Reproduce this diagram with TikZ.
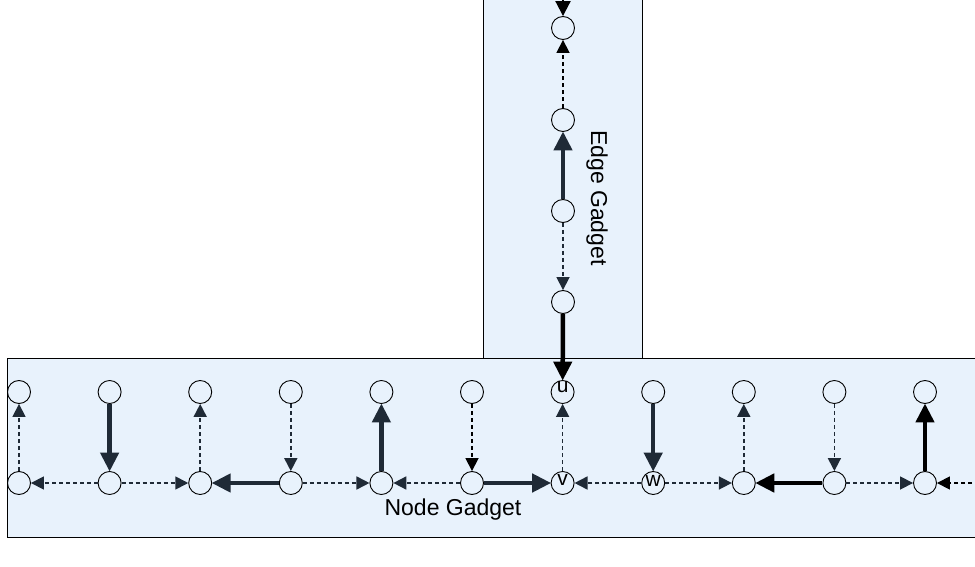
\documentclass[tikz,border=0pt]{standalone}
\usepackage{fontspec}
\setmainfont{Liberation Sans}
\usepackage{tikz}
\usetikzlibrary{arrows.meta}
\definecolor{gadgetfill}{HTML}{E8F2FC}
\definecolor{slate}{HTML}{1F2A36}

\tikzset{
  vtx/.style={circle, draw, minimum size=23pt, inner sep=0pt, line width=0.9pt},
  vlabel/.style={inner sep=0pt, font=\fontsize{21}{21}\selectfont},
  heavy/.style={draw=slate, line width=4.5pt, -{Triangle[length=19pt,width=18pt]}, shorten >=-0.5pt},
  light/.style={draw=slate, line width=1.7pt, dash pattern=on 4pt off 3pt, -{Triangle[length=13pt,width=13pt]}},
  gadget/.style={draw=black, line width=1pt, fill=gadgetfill},
  title/.style={font=\fontsize{23}{23}\selectfont}
}

\begin{document}
\begin{tikzpicture}[x=1pt, y=-1pt]
        \useasboundingbox (0,0) rectangle (975,567);
        \clip (0,0) rectangle (975,567);

        % the two gadgets
        \draw[gadget] (483,-20) rectangle (642,358);
        \draw[gadget] (7,358) rectangle (990,537);

        \node[rotate=-90, title] (edgelabel) at (597,198) {Edge Gadget};
        \node[title] (nodelabel) at (453,510) {Node Gadget};

        % edge gadget chain
        \coordinate (offtop) at (563,-20);
        \node[vtx] (e1) at (563,28) {};
        \node[vtx] (e2) at (563,120) {};
        \node[vtx] (e3) at (563,211) {};
        \node[vtx] (e4) at (563,302) {};

        % node gadget rows
        \foreach \i in {0,...,10} {
            \node[vtx] (t\i) at (19+90.6*\i, 392) {};
            \node[vtx] (b\i) at (19+90.6*\i, 483) {};
        }
        \node[vlabel] (ulabel) at ([yshift=5pt]t6) {u};
        \node[vlabel] (vlabel) at ([yshift=3pt]b6) {v};
        \node[vlabel] (wlabel) at ([yshift=2pt]b7) {w};
        \coordinate (offright) at (1000,483);

        \draw[draw=black, line width=2pt, -{Triangle[length=15pt,width=15pt]}] (offtop) -- (e1);
        \draw[light, draw=black] (e2) -- (e1);
        \draw[heavy] (e3) -- (e2);
        \draw[light] (e3) -- (e4);
        \draw[heavy, draw=black] (e4) -- (t6);

        % vertical links
        \draw[light] (b0) -- (t0);
        \draw[heavy] (t1) -- (b1);
        \draw[light] (b2) -- (t2);
        \draw[light] (t3) -- (b3);
        \draw[heavy] (b4) -- (t4);
        \draw[light, draw=black] (t5) -- (b5);
        \draw[light] (b6) -- (t6);
        \draw[heavy] (t7) -- (b7);
        \draw[light] (b8) -- (t8);
        \draw[light] (t9) -- (b9);
        \draw[heavy, draw=black] (b10) -- (t10);

        % horizontal links
        \draw[light] (b1) -- (b0);
        \draw[light] (b1) -- (b2);
        \draw[heavy] (b3) -- (b2);
        \draw[light] (b3) -- (b4);
        \draw[light] (b5) -- (b4);
        \draw[heavy] (b5) -- (b6);
        \draw[light] (b7) -- (b6);
        \draw[light] (b7) -- (b8);
        \draw[heavy, draw=black] (b9) -- (b8);
        \draw[light] (b9) -- (b10);
        \draw[light, draw=black] (offright) -- (b10);
\end{tikzpicture}
\end{document}
